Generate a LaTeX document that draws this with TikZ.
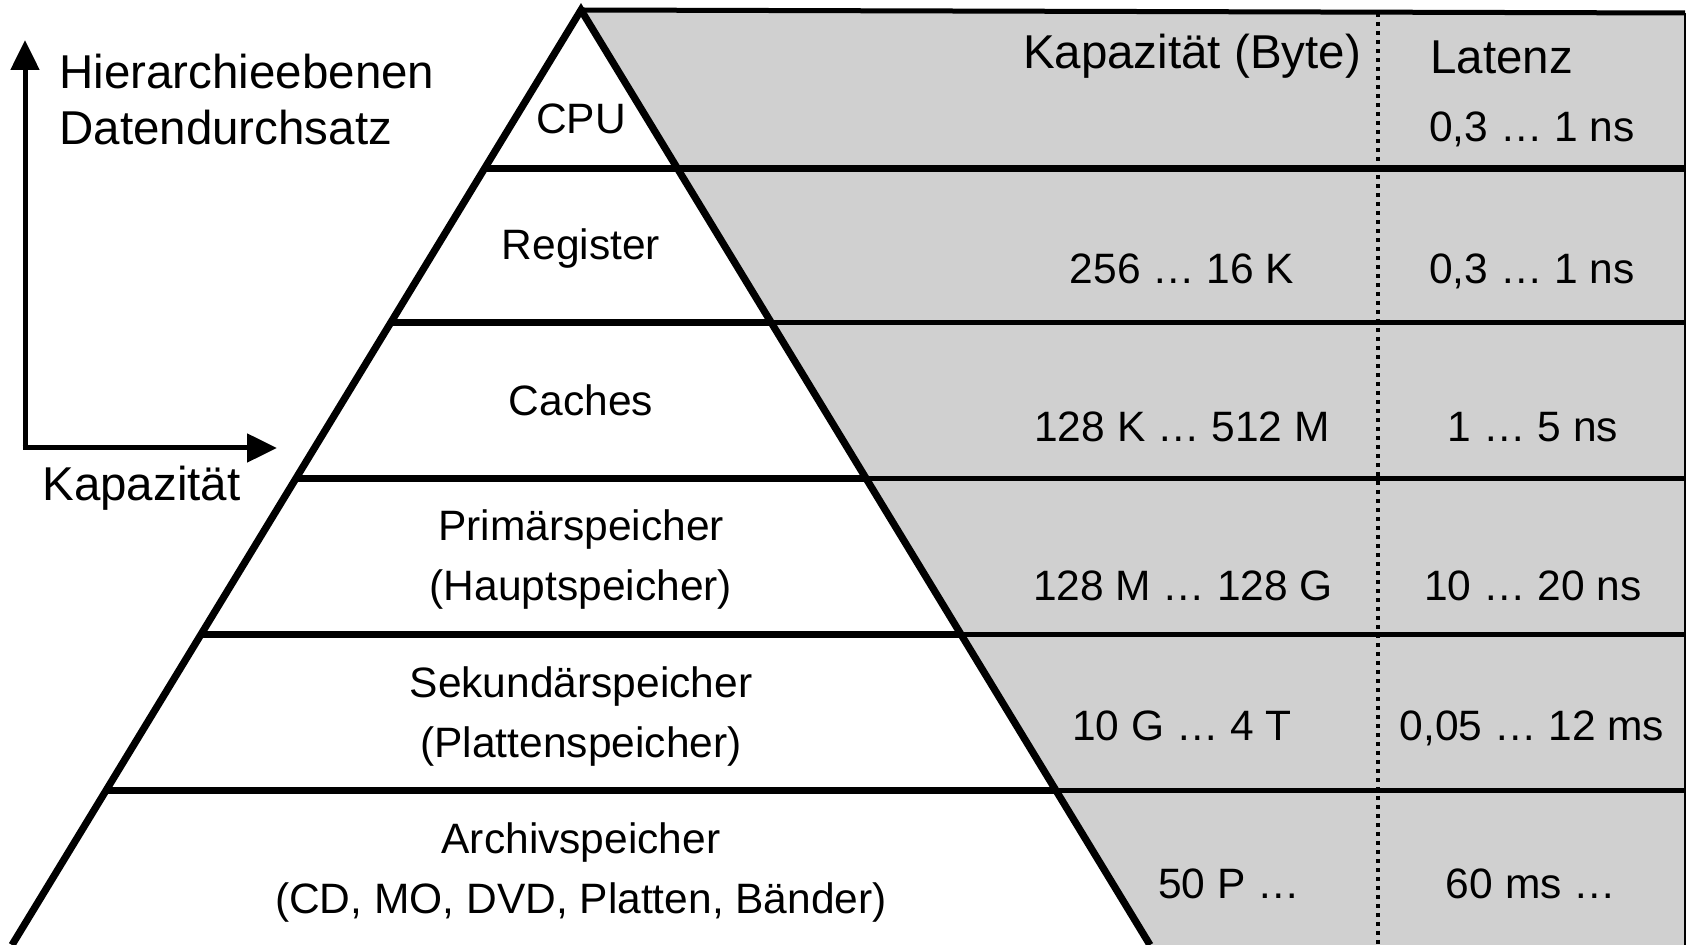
\documentclass[tikz,border=0pt]{standalone}
\usepackage{fontspec}
\setmainfont{Liberation Sans}
\usetikzlibrary{arrows.meta}
\definecolor{tablegray}{RGB}{208,208,208}
\begin{document}
\begin{tikzpicture}[x=0.5pt,y=-0.5pt,
  big/.style={font=\fontsize{23.75}{28}\selectfont, inner sep=0pt},
  lbl/.style={font=\fontsize{21.25}{25}\selectfont, inner sep=0pt, anchor=base},
  lvl/.style={line width=3.5pt},
  edge/.style={line width=3.6pt, line join=miter},
  axis/.style={line width=2.5pt, -{Triangle[length=15pt,width=14pt]}}]
\useasboundingbox (0,0) rectangle (1688,945);

% corner points of the pyramid and of the grey table
\coordinate (apex) at (581,10);
\coordinate (bl) at (12,945);
\coordinate (br) at (1150,945);
\coordinate (tr) at (1685,13);
\coordinate (rb) at (1685,945);

% grey table region right of the pyramid
\fill[tablegray] (apex) -- (tr) -- (rb) -- (br) -- cycle;
\draw[line width=1.2pt] (tr) -- (rb);
\draw[line width=2.5pt] (apex) -- (tr);

% dotted separator between capacity and latency columns
\draw[line width=2.4pt, dash pattern=on 2.2pt off 2.3pt] (1378,13) -- (1378,945);

% level separators: thick inside the pyramid, thinner across the table
\foreach \yy/\w in {169/3.5, 323/2.5, 479/2.5, 635/2.5, 791/2.5}{
  \pgfmathsetmacro{\xl}{581-0.6086*(\yy-10)}
  \pgfmathsetmacro{\xr}{581+0.6086*(\yy-10)}
  \draw[lvl] (\xl,\yy) -- (\xr,\yy);
  \draw[line width=\w pt] (\xr,\yy) -- (1685,\yy);
}

% pyramid outline
\draw[edge] (bl) -- (apex) -- (br);

% axes
\coordinate (origin) at (25,448);
\coordinate (ytip) at (25,40);
\coordinate (xtip) at (277,448);
\draw[axis] ([yshift=-0.5pt]origin) -- (ytip);
\draw[axis] ([xshift=-1.25pt]origin) -- (xtip);
\node[big, anchor=base west] (hier) at (59,89) {Hierarchieebenen};
\node[big, anchor=base west] (durch) at (59,145) {Datendurchsatz};
\node[big, anchor=base west] (kapax) at (42,501) {Kapazität};

% pyramid level labels
\node[lbl] (cpu) at (581,134) {CPU};
\node[lbl] (reg) at (581,260) {Register};
\node[lbl] (cache) at (581,416) {Caches};
\node[lbl] (prim) at (581,541) {Primärspeicher};
\node[lbl] (prim2) at (581,601) {(Hauptspeicher)};
\node[lbl] (sek) at (581,698) {Sekundärspeicher};
\node[lbl] (sek2) at (581,758) {(Plattenspeicher)};
\node[lbl] (arch) at (581,854) {Archivspeicher};
\node[lbl] (arch2) at (581,914) {(CD, MO, DVD, Platten, Bänder)};

% table headers
\node[big, anchor=base] (hcap) at (1192,69) {Kapazität (Byte)};
\node[big, anchor=base west] (hlat) at (1430,74) {Latenz};

% capacity column
\node[lbl] (c1) at (1182,284) {256 … 16 K};
\node[lbl] (c2) at (1182,442) {128 K … 512 M};
\node[lbl] (c3) at (1183,601) {128 M … 128 G};
\node[lbl] (c4) at (1182,741) {10 G … 4 T};
\node[lbl] (c5) at (1229,899) {50 P …};

% latency column
\node[lbl] (l0) at (1532,142) {0,3 … 1 ns};
\node[lbl] (l1) at (1532,284) {0,3 … 1 ns};
\node[lbl] (l2) at (1533,442) {1 … 5 ns};
\node[lbl] (l3) at (1533,601) {10 … 20 ns};
\node[lbl] (l4) at (1532,741) {0,05 … 12 ms};
\node[lbl] (l5) at (1531,899) {60 ms …};
\end{tikzpicture}
\end{document}
